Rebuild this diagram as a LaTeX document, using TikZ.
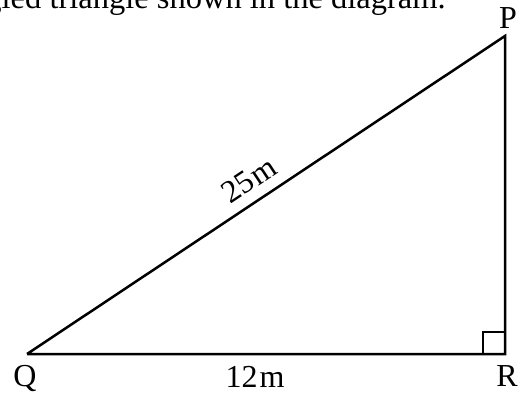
\documentclass[tikz,border=0pt]{standalone}
\usepackage{fontspec}
\setmainfont{Liberation Serif}
\usetikzlibrary{positioning,calc}

\begin{document}
\begin{tikzpicture}[x=1pt, y=1pt, line width=2.5pt, font=\fontsize{32}{38}\selectfont]
            \tikzset{vertex/.style={inner sep=0pt, minimum size=0pt},
                     tag/.style={anchor=base, inner sep=0pt}}
            \useasboundingbox (0,0) rectangle (525,394);
            \clip (0,0) rectangle (525,394);
            \node[anchor=base east, inner sep=0pt, font=\fontsize{32.5}{39}\selectfont] (question) at (447,385) {gled triangle shown in the diagram.};
            \node[vertex] (Q) at (27,40) {};
            \node[vertex] (R) at (505,40) {};
            \node[vertex] (P) at (505,358) {};
            \node[tag] (Plabel) at ($(P)+(3,7)$) {P};
            \node[tag] (Qlabel) at ($(Q)+(-2,-32)$) {Q};
            \node[tag] (Rlabel) at ($(R)+(2,-32)$) {R};
            \draw[line join=miter] (Q.center) -- (R.center) -- (P.center) -- (Q.center)
                node[pos=0.51, sloped, above=10pt, inner sep=0pt] (hyp) {25\kern2pt m};
            \node[tag] (base) at ($(Q)!0.477!(R)+(0,-33)$) {12\kern2pt m};
            % right angle at R
            \draw[line width=2pt] ($(R)+(-22,0)$) |- ($(R)+(0,22)$);
        \end{tikzpicture}
\end{document}
